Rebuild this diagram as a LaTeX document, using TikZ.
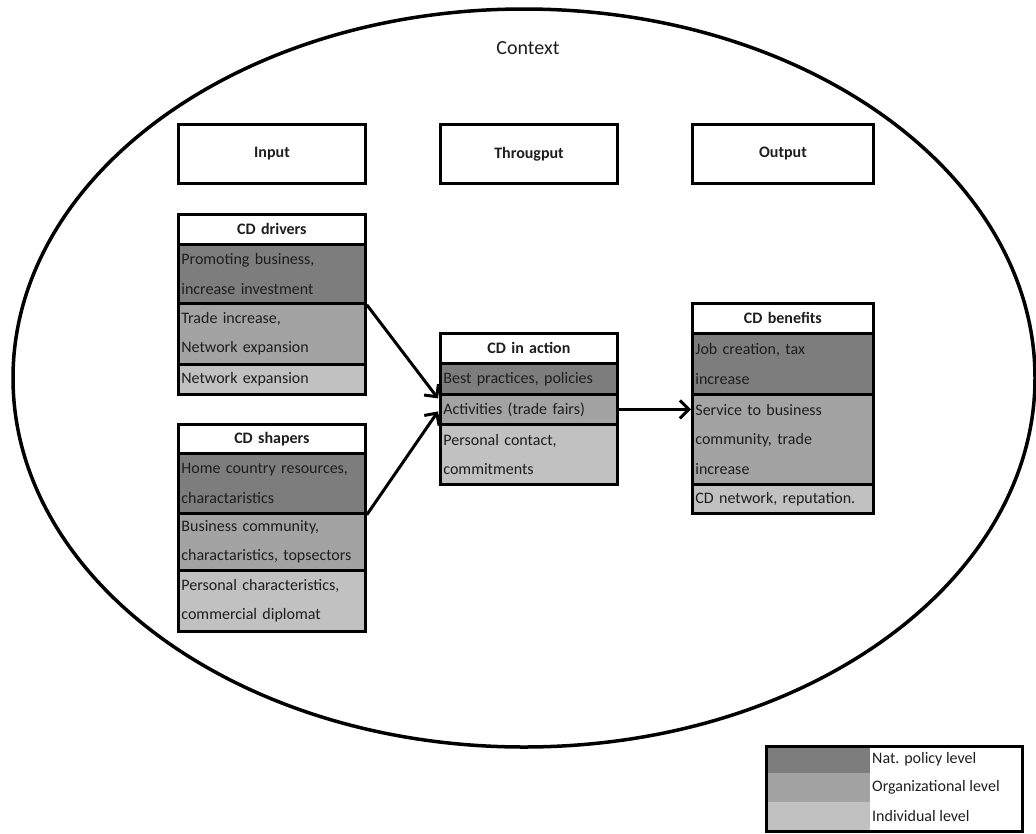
\documentclass[tikz,border=0pt]{standalone}
\usepackage{fontspec}
\setmainfont{Carlito}
\usetikzlibrary{arrows.meta,calc}
\definecolor{lvdark}{RGB}{125,125,125}
\definecolor{lvmid}{RGB}{163,163,163}
\definecolor{lvlight}{RGB}{193,193,193}
\definecolor{ink}{RGB}{30,30,30}
\tikzset{
  cell/.style={draw=black, line width=2.8pt, anchor=north west, inner xsep=3pt, inner ysep=0pt,
    align=left, font=\fontsize{16}{29.5}\selectfont, text=ink},
  titlecell/.style={cell, fill=white, align=center, font=\fontsize{16}{19}\selectfont\bfseries},
  hdr/.style={draw=black, line width=3pt, anchor=north west, fill=white, inner sep=0pt,
    font=\fontsize{16}{19}\selectfont\bfseries, text=ink},
  arr/.style={line width=3pt, -{Straight Barb[length=9pt,width=18pt,line width=3pt]}},
  legtext/.style={anchor=west, inner sep=0pt, font=\fontsize{16}{19}\selectfont, text=ink},
  swatch/.style={anchor=north west, inner sep=0pt, minimum width=105pt}
}
\begin{document}
\begin{tikzpicture}[x=1pt,y=-1pt]
\useasboundingbox (0,0) rectangle (1036,833);
% context ellipse
\draw[line width=3.5pt] (524,378) ellipse [x radius=511pt, y radius=369pt];
\node[font=\fontsize{20}{24}\selectfont, text=ink] (ctx) at (528,48) {Context};
% headers
\node[hdr, minimum width=187pt, minimum height=59pt] (hin) at (177,123) {Input};
\node[hdr, minimum width=177pt, minimum height=59pt] (hthr) at (439,123) {Througput};
\node[hdr, minimum width=181pt, minimum height=59pt] (hout) at (691,123) {Output};
% CD drivers
\node[titlecell, text width=181pt, minimum height=30pt] (dt) at (177,213) {CD drivers};
\node[cell, fill=lvdark, text width=181pt, minimum height=59pt] (d1) at (177,243) {Promoting business,\\increase investment};
\node[cell, fill=lvmid, text width=181pt, minimum height=61pt] (d2) at (177,302) {Trade increase,\\Network expansion};
\node[cell, fill=lvlight, text width=181pt, minimum height=30pt] (d3) at (177,363) {Network expansion};
% CD shapers
\node[titlecell, text width=181pt, minimum height=29pt] (st) at (177,423) {CD shapers};
\node[cell, fill=lvdark, text width=181pt, minimum height=60pt] (s1) at (177,452) {Home country resources,\\charactaristics};
\node[cell, fill=lvmid, text width=181pt, minimum height=57pt] (s2) at (177,512) {Business community,\\charactaristics, topsectors};
\node[cell, fill=lvlight, text width=181pt, minimum height=61pt] (s3) at (177,569) {Personal characteristics,\\commercial diplomat};
% CD in action
\node[titlecell, text width=171pt, minimum height=30pt] (at) at (439,332) {CD in action};
\node[cell, fill=lvdark, text width=171pt, minimum height=31pt] (a1) at (439,362) {Best practices, policies};
\node[cell, fill=lvmid, text width=171pt, minimum height=30pt] (a2) at (439,393) {Activities (trade fairs)};
\node[cell, fill=lvlight, text width=171pt, minimum height=60pt] (a3) at (439,423) {Personal contact,\\commitments};
% CD benefits
\node[titlecell, text width=175pt, minimum height=30pt] (bt) at (691,302) {CD benefits};
\node[cell, fill=lvdark, text width=175pt, minimum height=61pt] (b1) at (691,332) {Job creation, tax\\increase};
\node[cell, fill=lvmid, text width=175pt, minimum height=90pt] (b2) at (691,393) {Service to business\\community, trade\\increase};
\node[cell, fill=lvlight, text width=175pt, minimum height=29pt] (b3) at (691,483) {CD network, reputation.};
% arrows
\draw[arr] (d1.south east) -- ($(a2.west)+(-1,-11)$);
\draw[arr] (s1.south east) -- ($(a2.west)+(-1,2)$);
\draw[arr] (a2.east) -- (a2.east -| b2.west);
% legend
\node[swatch, fill=lvdark, minimum height=28pt] (l1) at (765,745) {};
\node[swatch, fill=lvmid, minimum height=29pt] (l2) at (765,773) {};
\node[swatch, fill=lvlight, minimum height=28pt] (l3) at (765,802) {};
\node[draw=black, line width=2.5pt, anchor=north west, minimum width=256pt, minimum height=85pt, inner sep=0pt] (leg) at (765,745) {};
\node[legtext] (lt1) at (872,759) {Nat. policy level};
\node[legtext] (lt2) at (872,787.5) {Organizational level};
\node[legtext] (lt3) at (872,816) {Individual level};
\end{tikzpicture}
\end{document}
